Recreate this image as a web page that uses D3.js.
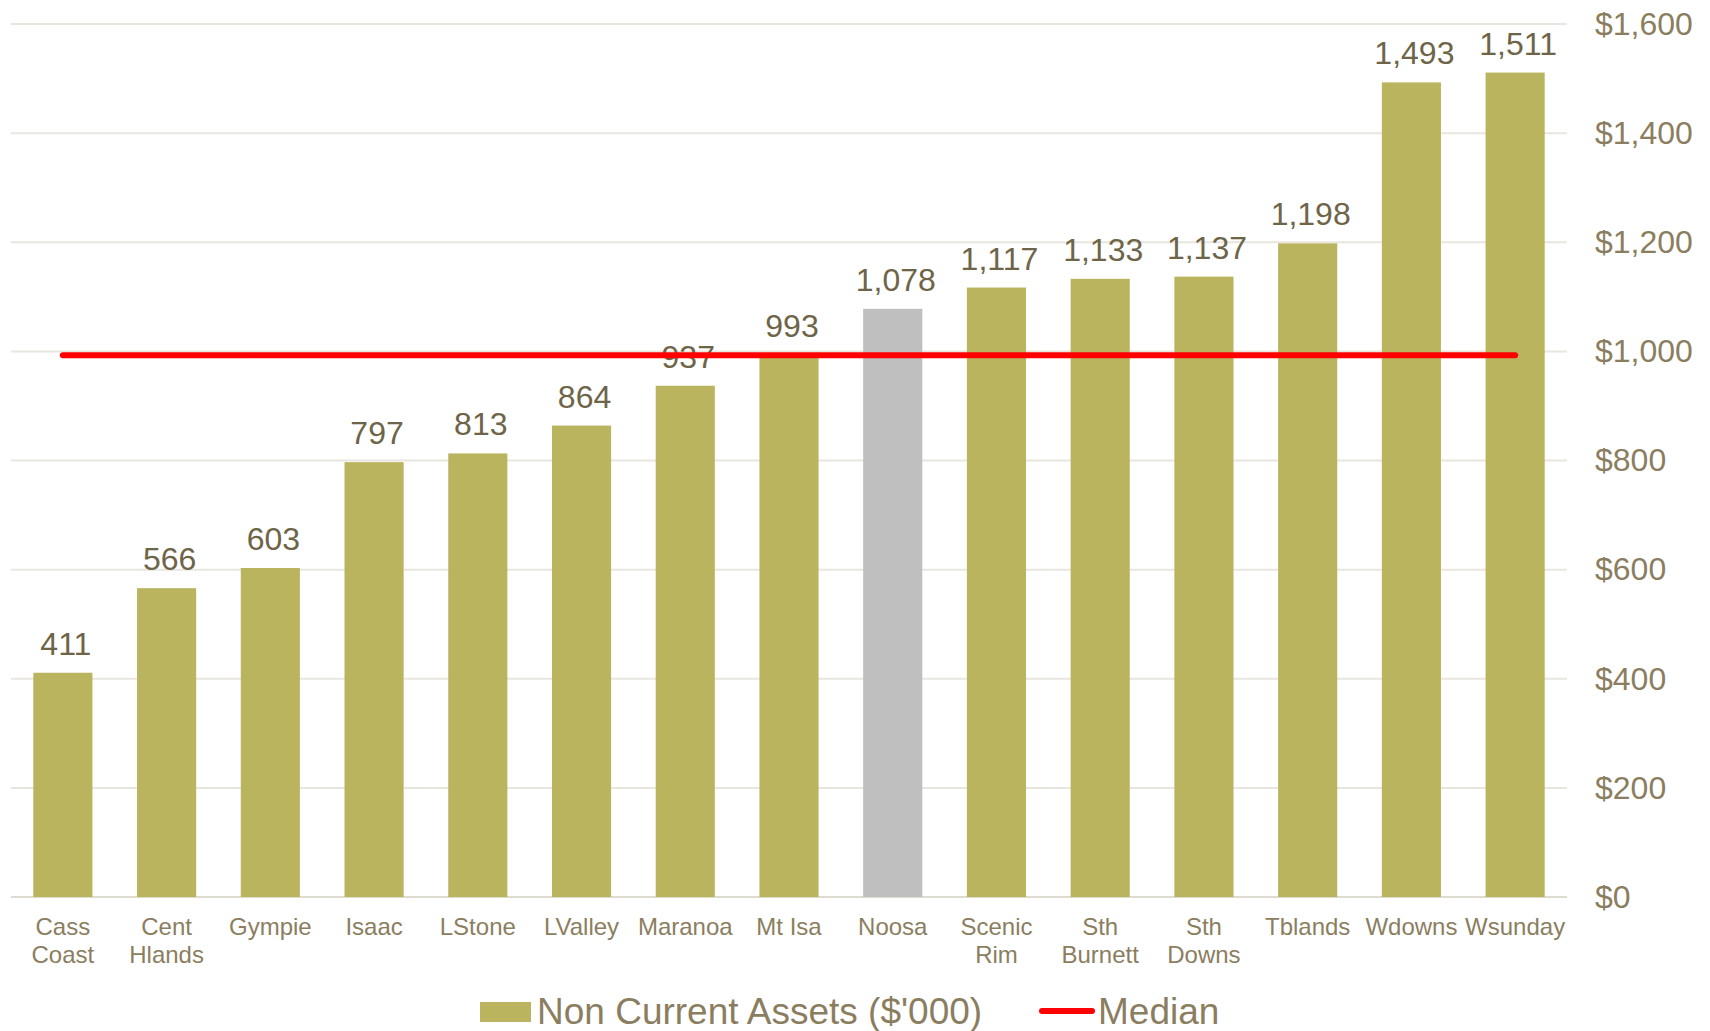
<!DOCTYPE html>
<html>
<head>
<meta charset="utf-8">
<script src="https://cdn.jsdelivr.net/npm/d3@7"></script>
<style>
  body { margin: 0; background: #fff; }
  svg { display: block; font-family: Arial, "Liberation Sans", sans-serif; }
</style>
</head>
<body>
<svg id="chart" width="1710" height="1031"></svg>
<script>
// councils (split into label lines)
var councils = [["Cass", "Coast"], ["Cent", "Hlands"], ["Gympie"], ["Isaac"], ["LStone"], ["LValley"],
    ["Maranoa"], ["Mt Isa"], ["Noosa"], ["Scenic", "Rim"], ["Sth", "Burnett"], ["Sth", "Downs"],
    ["Tblands"], ["Wdowns"], ["Wsunday"]];
var assets = [411, 566, 603, 797, 813, 864, 937, 993, 1078, 1117, 1133, 1137, 1198, 1493, 1511];
var highlight = "Noosa";
var medianValue = 993;
var yTicks = [0, 200, 400, 600, 800, 1000, 1200, 1400, 1600];
var legendLabels = ["Non Current Assets ($'000)", "Median"];

var svg = d3.select("#chart");

var plotLeft = 11, plotRight = 1567, plotTop = 24, plotBottom = 897;

var names = councils.map(function (c) { return c.join(" "); });

var x = d3.scaleBand()
    .domain(names)
    .range([plotLeft, plotRight])
    .paddingInner(0.43)
    .paddingOuter(0.215);

var y = d3.scaleLinear()
    .domain([0, 1600])
    .range([plotBottom, plotTop]);

var fmt = d3.format(",");

// gridlines
svg.append("g")
    .selectAll("line")
    .data(yTicks)
    .enter().append("line")
    .attr("x1", plotLeft).attr("x2", plotRight)
    .attr("y1", function (d) { return y(d); })
    .attr("y2", function (d) { return y(d); })
    .attr("stroke", function (d) { return d === 0 ? "#dedbd0" : "#e8e6de"; })
    .attr("stroke-width", 2);

// right axis
var axis = svg.append("g")
    .attr("transform", "translate(" + plotRight + ",0)")
    .call(d3.axisRight(y).tickValues(yTicks).tickSize(0).tickPadding(28)
        .tickFormat(function (d) { return "$" + fmt(d); }));
axis.select(".domain").remove();
axis.selectAll("text")
    .attr("fill", "#8b7e60")
    .style("font-size", "32px")
    .style("font-family", "Arial, 'Liberation Sans', sans-serif");

// bars
svg.append("g")
    .selectAll("rect")
    .data(assets)
    .enter().append("rect")
    .attr("x", function (d, i) { return x(names[i]); })
    .attr("width", x.bandwidth())
    .attr("y", function (d) { return y(d); })
    .attr("height", function (d) { return y(0) - y(d); })
    .attr("fill", function (d, i) { return names[i] === highlight ? "#bfbfbf" : "#bbb45f"; });

// value labels
svg.append("g")
    .selectAll("text")
    .data(assets)
    .enter().append("text")
    .attr("x", function (d, i) { return x(names[i]) + x.bandwidth() / 2 + 3; })
    .attr("y", function (d) { return y(d) - 18; })
    .attr("text-anchor", "middle")
    .attr("fill", "#6e6448")
    .style("font-size", "32px")
    .text(function (d) { return fmt(d); });

// category labels
var cat = svg.append("g")
    .selectAll("g")
    .data(councils)
    .enter().append("g")
    .attr("transform", function (d, i) {
        return "translate(" + (x(names[i]) + x.bandwidth() / 2) + "," + (plotBottom + 38) + ")";
    });
cat.selectAll("text")
    .data(function (d) { return d; })
    .enter().append("text")
    .attr("y", function (d, j) { return j * 28; })
    .attr("text-anchor", "middle")
    .attr("fill", "#8b7e60")
    .style("font-size", "24px")
    .text(function (d) { return d; });

// median line
var first = names[0], last = names[names.length - 1];
svg.append("line")
    .attr("x1", x(first) + x.bandwidth() / 2)
    .attr("x2", x(last) + x.bandwidth() / 2)
    .attr("y1", y(medianValue))
    .attr("y2", y(medianValue))
    .attr("stroke", "#ff0000")
    .attr("stroke-width", 6)
    .attr("stroke-linecap", "round");

// legend
var legend = svg.append("g");
legend.append("rect")
    .attr("x", 480).attr("y", 1002)
    .attr("width", 51).attr("height", 20)
    .attr("fill", "#bbb45f");
legend.append("text")
    .attr("x", 537).attr("y", 1024)
    .attr("fill", "#8b7e60")
    .style("font-size", "37px")
    .text(legendLabels[0]);
legend.append("line")
    .attr("x1", 1042).attr("x2", 1092)
    .attr("y1", 1011).attr("y2", 1011)
    .attr("stroke", "#ff0000")
    .attr("stroke-width", 6)
    .attr("stroke-linecap", "round");
legend.append("text")
    .attr("x", 1098).attr("y", 1024)
    .attr("fill", "#8b7e60")
    .style("font-size", "37px")
    .text(legendLabels[1]);
</script>
</body>
</html>
